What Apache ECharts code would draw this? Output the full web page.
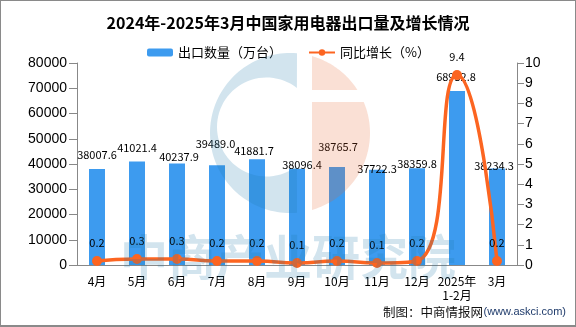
<!DOCTYPE html>
<html>
<head>
<meta charset="utf-8">
<script src="https://cdn.jsdelivr.net/npm/echarts@6/dist/echarts.min.js"></script>
<style>
html,body{margin:0;padding:0;background:#fff;}
#wrap{position:relative;width:576px;height:327px;}
#chart{position:absolute;left:0;top:0;width:576px;height:327px;}
#frame{position:absolute;left:0;top:0;width:576px;height:327px;box-sizing:border-box;border:1px solid #8a8a8a;border-bottom:2px solid #8a8a8a;pointer-events:none;}
</style>
</head>
<body>
<div id="wrap"><div id="chart"></div><div id="frame"></div></div>
<script>
// ---- data ----
const categories = ['4月','5月','6月','7月','8月','9月','10月','11月','12月','2025年\n1-2月','3月'];
const exportVolume = [38007.6, 41021.4, 40237.9, 39489.0, 41881.7, 38096.4, 38765.7, 37722.3, 38359.8, 68952.8, 38234.3];
const yoyGrowth = [0.2, 0.3, 0.3, 0.2, 0.2, 0.1, 0.2, 0.1, 0.2, 9.4, 0.2];
const leftTicks = {min: 0, max: 80000, interval: 10000};
const rightTicks = {min: 0, max: 10, interval: 1};

// ---- label styling (not data) ----
const barLabelRise = [14, 14, 7, 21, 8, 4, 20, 1, 4, 14, 3];
const barLabelShift = [0, 0, 2, -1.5, -3, 5, 1, 0, 0, -1, -3];

const FONT = '"Noto Sans CJK SC", "Noto Sans", sans-serif';
const chart = echarts.init(document.getElementById('chart'), null, {renderer: 'canvas'});

const barData = exportVolume.map((v, i) => ({
  value: v,
  label: {offset: [barLabelShift[i], -(barLabelRise[i] - 6)]}
}));

// ---- watermark (decoration) ----
function arcPts(cx, cy, r, a0, a1, n) {
  const pts = [];
  for (let k = 0; k <= n; k++) {
    const a = a0 + (a1 - a0) * k / n;
    pts.push([cx + r * Math.cos(a), cy + r * Math.sin(a)]);
  }
  return pts;
}
const ang = (cx, cy, x, y) => Math.atan2(y - cy, x - cx);
const OC = [290, 133, 80];
const IC = [266.5, 127, 49.5];
const a0 = ang(OC[0], OC[1], 297, 53.3), a1 = ang(OC[0], OC[1], 297, 212.7);
const innerA0 = ang(IC[0], IC[1], 297, 166.2);
const innerA1 = ang(IC[0], IC[1], 297, 87.8) + 2 * Math.PI;
const bluePoly = arcPts(OC[0], OC[1], OC[2], a0, a1 - 2 * Math.PI, 80)
  .concat(arcPts(IC[0], IC[1], IC[2], innerA0, innerA1, 60));
const peachTop = arcPts(OC[0], OC[1], OC[2], ang(OC[0], OC[1], 312, 56.1), ang(OC[0], OC[1], 357.5, 90), 30).concat([[312, 90]]);
const peachBot = [[312, 102]].concat(arcPts(OC[0], OC[1], OC[2], ang(OC[0], OC[1], 363.8, 102), ang(OC[0], OC[1], 312, 209.9), 40));

const wmBlue = 'rgba(30,120,170,0.2)';
const wmPeach = 'rgba(230,100,45,0.2)';

chart.setOption({
  animation: false,
  title: {
    text: '2024年-2025年3月中国家用电器出口量及增长情况',
    left: 'center', top: 10,
    textStyle: {fontSize: 16, fontWeight: 'bold', color: '#000', fontFamily: FONT}
  },
  legend: {
    left: 142, top: 41,
    itemWidth: 26, itemHeight: 8, itemGap: 26,
    textStyle: {fontSize: 13, color: '#000', fontFamily: FONT},
    data: ['出口数量（万台）', '同比增长（%）']
  },
  grid: {left: 77, right: 59, top: 63, bottom: 62},
  xAxis: {
    type: 'category',
    data: categories,
    axisLine: {lineStyle: {color: '#888'}},
    axisTick: {length: 5, lineStyle: {color: '#888'}},
    axisLabel: {interval: 0, fontSize: 12, color: '#000', fontFamily: FONT, margin: 9, lineHeight: 14}
  },
  yAxis: [{
    type: 'value', min: leftTicks.min, max: leftTicks.max, interval: leftTicks.interval,
    axisLine: {show: true, lineStyle: {color: '#888'}},
    axisTick: {show: true, length: 8, lineStyle: {color: '#888'}},
    axisLabel: {fontSize: 14, color: '#000', fontFamily: '"Liberation Sans", Arial, sans-serif', margin: 10,
      formatter: v => String(v)},
    splitLine: {show: false}
  }, {
    type: 'value', min: rightTicks.min, max: rightTicks.max, interval: rightTicks.interval,
    axisLine: {show: true, lineStyle: {color: '#888'}},
    axisTick: {show: true, length: 7, lineStyle: {color: '#888'}},
    axisLabel: {fontSize: 14, color: '#000', fontFamily: '"Liberation Sans", Arial, sans-serif', margin: 8,
      formatter: v => String(v)},
    splitLine: {show: false}
  }],
  series: [{
    name: '出口数量（万台）',
    type: 'bar',
    barWidth: 16,
    itemStyle: {color: '#3D9BEF'},
    label: {show: true, position: 'top', distance: 0, fontSize: 11, lineHeight: 12, color: '#000', fontFamily: FONT,
      formatter: p => Number(p.value).toFixed(1)},
    data: barData,
    z: 2
  }, {
    name: '同比增长（%）',
    type: 'line',
    yAxisIndex: 1,
    smooth: 0.55,
    symbol: 'circle',
    symbolSize: 10,
    lineStyle: {width: 3.5, color: '#FC6521'},
    itemStyle: {color: '#FC6521'},
    label: {show: true, position: 'top', distance: 7, fontSize: 11, lineHeight: 12, color: '#000', fontFamily: FONT,
      formatter: p => Number(p.value).toFixed(1)},
    data: yoyGrowth,
    z: 3
  }],
  graphic: [
    {type: 'polygon', z: 100, silent: true, shape: {points: bluePoly}, style: {fill: wmBlue}},
    {type: 'polygon', z: 100, silent: true, shape: {points: peachTop}, style: {fill: wmPeach}},
    {type: 'polygon', z: 100, silent: true, shape: {points: peachBot}, style: {fill: wmPeach}},
    {type: 'text', z: 100, silent: true, x: 288, y: 257,
     style: {text: '中商产业研究院', font: 'bold 48px "Noto Sans CJK SC"', fill: 'rgba(30,120,170,0.2)', textAlign: 'center', textVerticalAlign: 'middle'}},
    {type: 'text', z: 101, silent: true, x: 483, y: 312,
     style: {text: '制图：中商情报网', font: '12.5px "Noto Sans CJK SC"', fill: '#111', textAlign: 'right', textVerticalAlign: 'middle'}},
    {type: 'text', z: 101, silent: true, x: 566, y: 312,
     style: {text: '(www.askci.com)', font: '11px "Liberation Sans", Arial, sans-serif', fill: '#1F3B6B', textAlign: 'right', textVerticalAlign: 'middle'}}
  ]
});
</script>
</body>
</html>
